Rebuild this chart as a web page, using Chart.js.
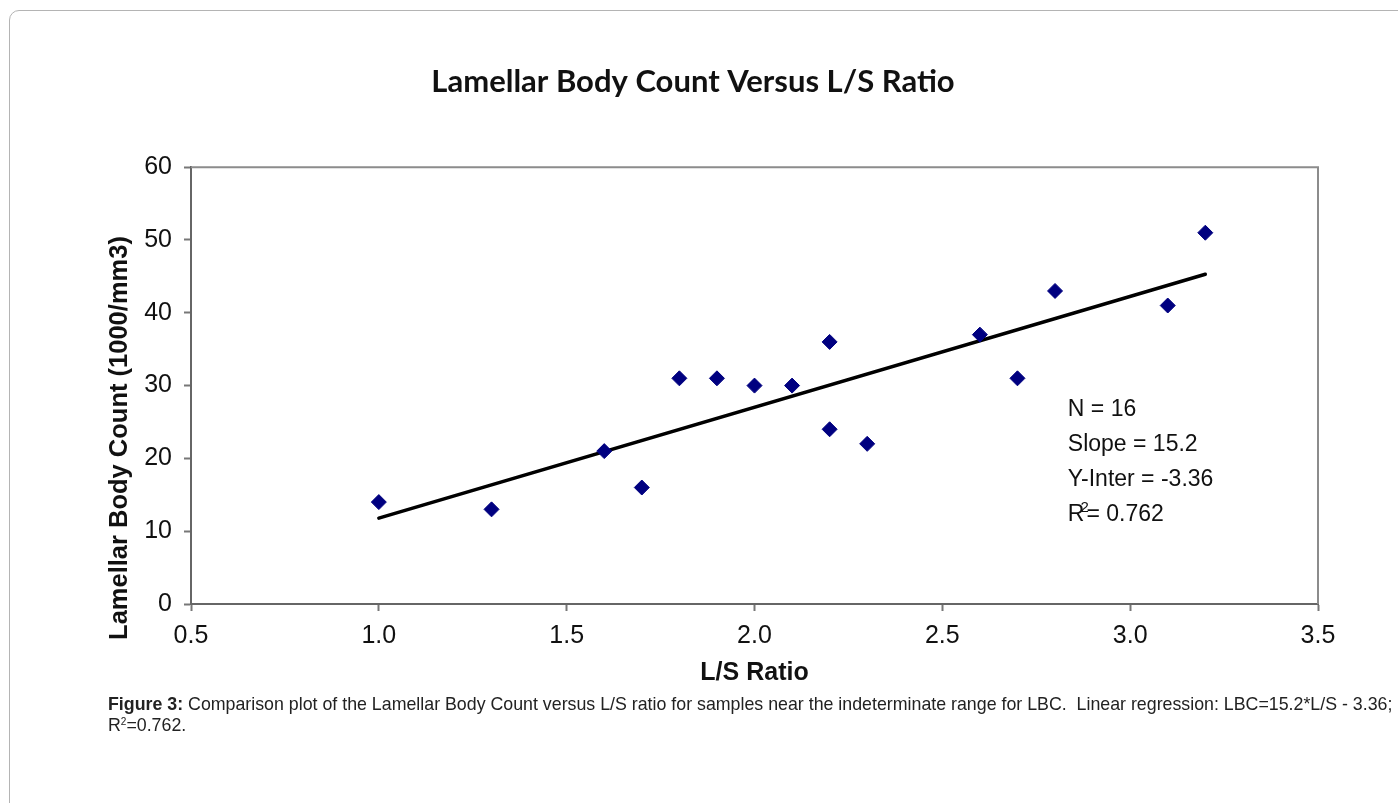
<!DOCTYPE html>
<html>
<head>
<meta charset="utf-8">
<script src="https://cdn.jsdelivr.net/npm/chart.js@4.4.1/dist/chart.umd.min.js"></script>
<style>
  html, body { margin: 0; padding: 0; background: #fff; }
  body { width: 1398px; height: 803px; position: relative; overflow: hidden; }
  #frame {
    position: absolute; left: 9px; top: 10px; width: 1420px; height: 820px;
    border: 1px solid #b4b4b4; border-radius: 10px; box-sizing: border-box;
  }
  #chartBox { position: absolute; left: 0; top: 0; width: 1398px; height: 700px; }
  #caption {
    position: absolute; left: 108px; top: 694px; width: 1290px;
    font-family: "Liberation Sans", Arial, sans-serif; font-size: 17.8px;
    line-height: 21px; color: #222;
  }
  #caption b { font-weight: bold; }
</style>
</head>
<body>
<div id="frame"></div>
<div id="chartBox"><canvas id="chart"></canvas></div>
<div id="caption"><b>Figure 3:</b> Comparison plot of the Lamellar Body Count versus L/S ratio for samples near the indeterminate range for LBC.&nbsp; Linear regression: LBC=15.2*L/S - 3.36;<br>R<sup style="font-size:10px;vertical-align:6px;line-height:0">2</sup>=0.762.</div>

<script>
// L/S ratio and lamellar body count readings
const lsRatio = [1.0, 1.3, 1.6, 1.7, 1.8, 1.9, 2.0, 2.1, 2.2, 2.2, 2.3, 2.6, 2.7, 2.8, 3.1, 3.2];
const lbcCount = [14, 13, 21, 16, 31, 31, 30, 30, 36, 24, 22, 37, 31, 43, 41, 51];

// regression line end points as drawn
const fitX = [1.0, 3.2];
const fitY = [11.8, 45.3];

const xTicks = [0.5, 1.0, 1.5, 2.0, 2.5, 3.0, 3.5];
const yTicks = [0, 10, 20, 30, 40, 50, 60];

const statLines = ["N = 16", "Slope = 15.2", "Y-Inter = -3.36", "R2= 0.762"];
const yTitle = "Lamellar Body Count (1000/mm3)";

const tickFont = { family: "Liberation Sans, Arial, sans-serif", size: 25 };

// gray frame on top / right of the plot, y title and stats text
const framePlugin = {
  id: "framePlugin",
  afterDatasetsDraw(chart) {
    const { ctx, chartArea: a } = chart;
    ctx.save();
    ctx.strokeStyle = "#8c8c8c";
    ctx.lineWidth = 2;
    ctx.beginPath();
    ctx.moveTo(a.left, a.top);
    ctx.lineTo(a.right, a.top);
    ctx.lineTo(a.right, a.bottom);
    ctx.stroke();

    // y axis title sits a bit low, like the original
    ctx.save();
    ctx.translate(120, a.top + (a.bottom - a.top) * 0.62);
    ctx.rotate(-Math.PI / 2);
    ctx.fillStyle = "#111";
    ctx.font = "bold 25.5px 'Liberation Sans', Arial, sans-serif";
    ctx.textAlign = "center";
    ctx.textBaseline = "middle";
    ctx.fillText(yTitle, 0, 0);
    ctx.restore();

    ctx.fillStyle = "#111";
    ctx.font = "23px 'Liberation Sans', Arial, sans-serif";
    ctx.textBaseline = "middle";
    const x0 = a.left + (a.right - a.left) * 0.778;
    const y0 = a.top + (a.bottom - a.top) * 0.555;
    statLines.forEach((t, i) => {
      const y = y0 + i * 35;
      if (t.startsWith("R2")) {
        ctx.fillText("R", x0, y);
        const w = ctx.measureText("R").width;
        ctx.font = "15px 'Liberation Sans', Arial, sans-serif";
        ctx.fillText("2", x0 + w - 4, y - 7);
        ctx.font = "23px 'Liberation Sans', Arial, sans-serif";
        ctx.fillText(t.slice(2), x0 + w + 2, y);
      } else {
        ctx.fillText(t, x0, y);
      }
    });
    ctx.restore();
  },
};

new Chart(document.getElementById("chart"), {
  type: "scatter",
  data: {
    datasets: [
      {
        label: "LBC",
        data: lsRatio.map((x, i) => ({ x, y: lbcCount[i] })),
        pointStyle: "rectRot",
        pointRadius: 7.5,
        pointHoverRadius: 7.5,
        backgroundColor: "#000080",
        borderColor: "#000080",
        borderWidth: 1,
        order: 1,
      },
      {
        label: "Fit",
        type: "line",
        data: fitX.map((x, i) => ({ x, y: fitY[i] })),
        borderColor: "#000",
        borderWidth: 3.5,
        pointRadius: 0,
        borderCapStyle: "round",
        order: 2,
      },
    ],
  },
  options: {
    responsive: true,
    maintainAspectRatio: false,
    animation: false,
    layout: { padding: { left: 68, right: 80, top: 0, bottom: 10 } },
    plugins: {
      legend: { display: false },
      tooltip: { enabled: false },
      title: {
        display: true,
        text: "Lamellar Body Count Versus L/S Ratio",
        color: "#111",
        font: { family: "Lato, 'Open Sans', sans-serif", size: 31, weight: "bold" },
        padding: { top: 63, bottom: 67 },
      },
    },
    scales: {
      x: {
        type: "linear",
        min: 0.5,
        max: 3.5,
        afterBuildTicks: (s) => { s.ticks = xTicks.map((v) => ({ value: v })); },
        afterFit: (s) => { s.height = 86; },
        ticks: {
          color: "#111",
          font: tickFont,
          padding: 10,
          callback: (v) => Number(v).toFixed(1),
        },
        grid: { drawOnChartArea: false, tickLength: 7, tickColor: "#777", tickWidth: 2 },
        border: { color: "#666", width: 2 },
        title: {
          display: true,
          text: "L/S Ratio",
          color: "#111",
          font: { family: "Liberation Sans, Arial, sans-serif", size: 25, weight: "bold" },
          padding: { top: 0, bottom: 2 },
        },
      },
      y: {
        type: "linear",
        min: 0,
        max: 60,
        afterBuildTicks: (s) => { s.ticks = yTicks.map((v) => ({ value: v })); },
        afterFit: (s) => { s.width = 123; },
        ticks: { color: "#111", font: tickFont, padding: 12 },
        grid: { drawOnChartArea: false, tickLength: 7, tickColor: "#777", tickWidth: 2 },
        border: { color: "#666", width: 2 },
      },
    },
  },
  plugins: [framePlugin],
});
</script>
</body>
</html>
